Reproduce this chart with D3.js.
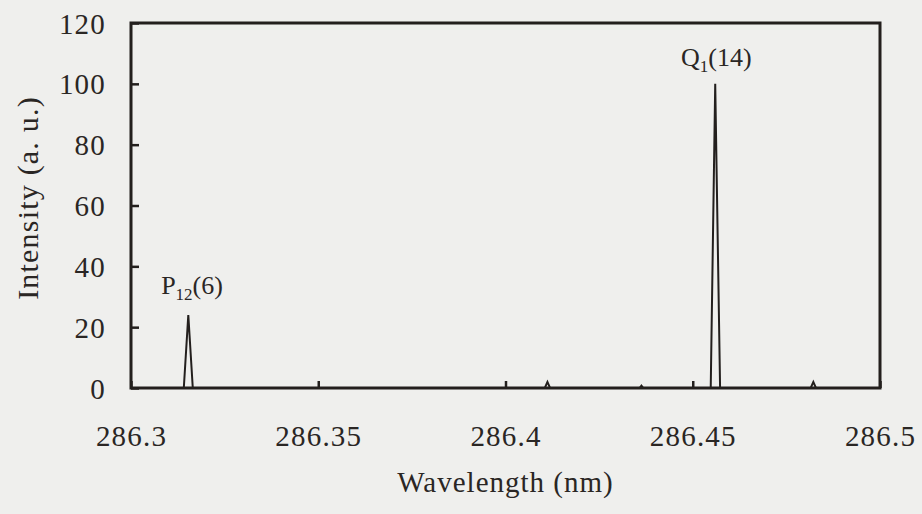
<!DOCTYPE html>
<html>
<head>
<meta charset="utf-8">
<script src="https://cdn.jsdelivr.net/npm/d3@7"></script>
<style>
  body { margin: 0; background: #efefed; }
  svg { display: block; }
  text { font-family: "Liberation Serif", "Times New Roman", serif; fill: #2a2624; }
</style>
</head>
<body>
<div id="chart"></div>
<script>
// spectrum: wavelength (nm) and intensity (a.u.)
var wavelength = [286.300, 286.3141, 286.3153, 286.3165, 286.4105, 286.4112, 286.4119,
   286.4358, 286.4363, 286.4368, 286.4548, 286.4560, 286.4573,
   286.4815, 286.4822, 286.4829, 286.500];
var intensity = [0, 0, 24, 0, 0, 2, 0,
   0, 0.8, 0, 0, 100, 0,
   0, 2, 0, 0];

var xTicks = [286.3, 286.35, 286.4, 286.45, 286.5];
var xTickLabels = ["286.3", "286.35", "286.4", "286.45", "286.5"];
var yTicks = [0, 20, 40, 60, 80, 100, 120];

var peakNames = ["P", "Q"];
var peakSubs = ["12", "1"];
var peakArgs = ["(6)", "(14)"];
var peakX = [286.3163, 286.4563];
var peakY = [31, 106];

var width = 922, height = 514,
   margin = {top: 23, right: 42, bottom: 126, left: 131},
   inner = {w: width - margin.left - margin.right, h: height - margin.top - margin.bottom},
   ink = "#231f1d";

var svg = d3.select("#chart").append("svg")
   .attr("width", width)
   .attr("height", height);

var g = svg.append("g")
   .attr("transform", "translate(" + margin.left + "," + margin.top + ")");

var x = d3.scaleLinear().domain([286.3, 286.5]).range([0, inner.w]);
var y = d3.scaleLinear().domain([0, 120]).range([inner.h, 0]);

var pts = wavelength.map(function (w, i) { return [w, intensity[i]]; });

//spectrum
g.append("path")
   .datum(pts)
   .attr("fill", "none")
   .attr("stroke", ink)
   .attr("stroke-width", 2)
   .attr("stroke-linejoin", "miter")
   .attr("d", d3.line()
      .x(function (d) { return x(d[0]); })
      .y(function (d) { return y(d[1]); }));

//axes with inward ticks
var xAxis = g.append("g")
   .attr("transform", "translate(0," + inner.h + ")")
   .call(d3.axisBottom(x).tickValues(xTicks)
      .tickSize(-7).tickPadding(37)
      .tickFormat(function (d, i) { return xTickLabels[i]; }));

var yAxis = g.append("g")
   .call(d3.axisLeft(y).tickValues(yTicks)
      .tickSize(-8).tickPadding(25));

[xAxis, yAxis].forEach(function (ax) {
   ax.select(".domain").remove();
   ax.selectAll(".tick line").attr("stroke", ink).attr("stroke-width", 2.5);
   ax.selectAll(".tick text")
      .attr("font-size", 29)
      .attr("letter-spacing", "1.2px")
      .attr("font-family", "Liberation Serif, serif")
      .attr("fill", "#2a2624");
});
yAxis.selectAll(".tick text").attr("dy", "0.35em");
xAxis.selectAll(".tick text").attr("dy", "0.71em");

//frame
g.append("rect")
   .attr("x", 0).attr("y", 0)
   .attr("width", inner.w).attr("height", inner.h)
   .attr("fill", "none")
   .attr("stroke", ink)
   .attr("stroke-width", 3);

//peak labels
peakNames.forEach(function (n, i) {
   var t = g.append("text")
      .attr("x", x(peakX[i]))
      .attr("y", y(peakY[i]))
      .attr("text-anchor", "middle")
      .attr("font-size", 26);
   t.append("tspan").text(n);
   t.append("tspan").attr("font-size", 17).attr("dy", 6).text(peakSubs[i]);
   t.append("tspan").attr("dy", -6).text(peakArgs[i]);
});

//axis titles
svg.append("text")
   .attr("x", margin.left + inner.w / 2)
   .attr("y", 492)
   .attr("text-anchor", "middle")
   .attr("font-size", 29)
   .attr("letter-spacing", "1px")
   .text("Wavelength (nm)");

svg.append("text")
   .attr("transform", "translate(38,198) rotate(-90)")
   .attr("text-anchor", "middle")
   .attr("font-size", 30)
   .attr("letter-spacing", "1.2px")
   .text("Intensity (a. u.)");
</script>
</body>
</html>
